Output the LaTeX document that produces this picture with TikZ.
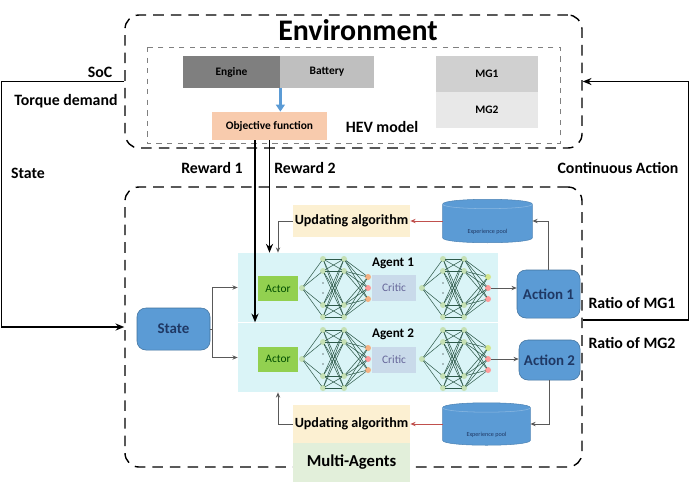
\documentclass[tikz,border=0pt]{standalone}
\usepackage{fontspec}
\setmainfont{Carlito}
\usetikzlibrary{arrows.meta,backgrounds}

\definecolor{enginegray}{HTML}{7F7F7F}
\definecolor{battgray}{HTML}{BFBFBF}
\definecolor{mgonegray}{HTML}{D0D0D0}
\definecolor{mgtwogray}{HTML}{E8E8E8}
\definecolor{objpeach}{HTML}{F8CBAD}
\definecolor{hevblue}{HTML}{5B9BD5}
\definecolor{navytext}{HTML}{1F3864}
\definecolor{panelcyan}{HTML}{DAF4F7}
\definecolor{updyellow}{HTML}{FCF0D2}
\definecolor{multigreen}{HTML}{E2EFDA}
\definecolor{actorgreen}{HTML}{92D050}
\definecolor{criticblue}{HTML}{C9DAEA}
\definecolor{neurongreen}{HTML}{C5E0B4}
\definecolor{edgeteal}{HTML}{2E5A4A}
\definecolor{outorange}{HTML}{F4B183}
\definecolor{outpink}{HTML}{FF9B9B}
\definecolor{outlime}{HTML}{D4E68C}
\definecolor{pooldark}{HTML}{41719C}
\definecolor{arrowred}{HTML}{C0504D}

\tikzset{
  lbl/.style={font=\bfseries\fontsize{9}{10}\selectfont},
  hevpart/.style={minimum height=6.4mm,inner sep=0pt,font=\bfseries\fontsize{6.5}{7}\selectfont},
  bluebox/.style={fill=hevblue,draw=pooldark,line width=0.3pt,rounded corners=5pt,text=navytext,inner sep=0pt,font=\bfseries\fontsize{8.5}{9}\selectfont},
  updbox/.style={fill=updyellow,minimum width=23.4mm,inner sep=0pt,font=\bfseries\fontsize{8}{9}\selectfont},
  poolbox/.style={inner sep=0pt,text=navytext,font=\fontsize{3.5}{4}\selectfont,text depth=0pt},
  poolfill/.style={fill=hevblue,draw=hevblue!85!black,line width=0.3pt},
  neuron/.style={circle,fill=neurongreen,inner sep=0pt,minimum size=1.2mm},
  nnedge/.style={draw=edgeteal,line width=0.3pt,shorten <=-0.5pt,shorten >=-0.5pt},
  gconn/.style={draw=gray!70!black,line width=0.5pt,-{Stealth[length=3pt,width=2.5pt]}},
  redconn/.style={draw=arrowred,line width=0.5pt,-{Stealth[length=3pt,width=2.5pt]}},
  loopline/.style={line width=0.8pt,-{Stealth[length=5pt,width=4pt]}},
}

\begin{document}
\begin{tikzpicture}[x=0.2mm,y=-0.2mm]
\useasboundingbox (0,0) rectangle (690,488);

% environment part
\node[draw,dashed,dash pattern=on 6pt off 4pt,line width=0.8pt,rounded corners=8pt,minimum width=91.4mm,minimum height=26.6mm] (envbox) at (353.5,81.5) {};
\draw[gray,dashed,line width=0.5pt] (147,47) rectangle (560,143);
\node[font=\bfseries\fontsize{17}{18}\selectfont] (envtitle) at (358,30) {Environment};

\node[hevpart,fill=enginegray,minimum width=19.4mm] (engine) at (231.5,72) {Engine};
\node[hevpart,fill=battgray,minimum width=18.8mm] (battery) at (327,72) {Battery};
\node[hevpart,fill=mgonegray,minimum width=20.4mm,minimum height=7.2mm] (mgone) at (487,74) {MG1};
\node[hevpart,fill=mgtwogray,minimum width=20.4mm,minimum height=7.2mm] (mgtwo) at (487,110) {MG2};
\node[hevpart,fill=objpeach,minimum width=23mm,minimum height=5.6mm] (objfun) at (269.5,126) {Objective function};
\node[lbl] (hevlabel) at (382,127) {HEV model};

\draw[hevblue,line width=1.5pt,-{Triangle[length=4pt,width=5pt]}] (engine.south east) -- (engine.south east |- objfun.north);

% agent part
\node[draw,dashed,dash pattern=on 6pt off 4pt,line width=0.8pt,rounded corners=8pt,minimum width=91.4mm,minimum height=56mm] (agentbox) at (353.5,327) {};

\node[fill=panelcyan,minimum width=52mm,minimum height=13.8mm,inner sep=0pt] (pana) at (368,287.5) {};
\node[fill=panelcyan,minimum width=52mm,minimum height=13.8mm,inner sep=0pt] (panb) at (368,357.5) {};
\draw[white,line width=0.6pt] (pana.south west) -- (pana.south east);

\node[fill=actorgreen,minimum width=8mm,minimum height=5mm,inner sep=0pt,text=green!30!black,font=\fontsize{6.5}{7}\selectfont] (actora) at (278,288.5) {Actor};
\node[fill=actorgreen,minimum width=8mm,minimum height=5mm,inner sep=0pt,text=green!30!black,font=\fontsize{6.5}{7}\selectfont] (actorb) at (278,359) {Actor};
\node[fill=criticblue,minimum width=8.8mm,minimum height=5.2mm,inner sep=0pt,text=gray!80!blue,font=\fontsize{6.5}{7}\selectfont] (critica) at (394,288) {Critic};
\node[fill=criticblue,minimum width=8.8mm,minimum height=5.2mm,inner sep=0pt,text=gray!80!blue,font=\fontsize{6.5}{7}\selectfont] (criticb) at (394,360) {Critic};

% networks
\foreach \nn/\nx/\ny/\oa/\ob/\oc in {a/302/288/outorange/outpink/outorange, b/422/288/outlime/outpink/outpink, c/302/359/outorange/outpink/outorange, d/422/359/outlime/outpink/outpink}{
  \node[neuron] (\nn-in) at (\nx,\ny) {};
  \foreach \dy [count=\i] in {-29,-17,17,29}{
    \node[neuron] (\nn-p\i) at (\nx+21,\ny+\dy) {};
    \node[neuron] (\nn-q\i) at (\nx+42,\ny+\dy) {};
  }
  \node[neuron,fill=\oa] (\nn-o1) at (\nx+66,\ny-11) {};
  \node[neuron,fill=\ob] (\nn-o2) at (\nx+66,\ny) {};
  \node[neuron,fill=\oc] (\nn-o3) at (\nx+66,\ny+11) {};
  \foreach \i in {1,...,4}{
    \draw[nnedge] (\nn-in) -- (\nn-p\i);
    \foreach \j in {1,...,4} \draw[nnedge] (\nn-p\i) -- (\nn-q\j);
    \foreach \k in {1,2,3} \draw[nnedge] (\nn-q\i) -- (\nn-o\k);
  }
  \fill (\nx+21,\ny-5) circle (0.35pt);
  \fill (\nx+21,\ny+5) circle (0.35pt);
}

\node[font=\bfseries\fontsize{7.5}{8}\selectfont] (agentone) at (393,263) {Agent 1};
\node[font=\bfseries\fontsize{7.5}{8}\selectfont] (agenttwo) at (393,334) {Agent 2};

\node[bluebox,minimum width=12.6mm,minimum height=9.6mm] (actiona) at (548.5,294) {Action 1};
\node[bluebox,minimum width=12.2mm,minimum height=8mm] (actionb) at (549.5,360) {Action 2};
\node[bluebox,minimum width=14.6mm,minimum height=8.4mm] (state) at (173.5,329) {State};

\node[updbox,minimum height=6.4mm] (updone) at (351.5,221) {Updating algorithm};
\node[updbox,minimum height=7.6mm] (updtwo) at (351.5,424) {Updating algorithm};
\node[fill=multigreen,minimum width=23.4mm,minimum height=7.8mm,inner sep=0pt,font=\bfseries\fontsize{9.5}{10}\selectfont] (multi) at (351.5,462.5) {Multi-Agents};

% experience pools (barrel drawn behind the node)
\node[poolbox,minimum height=8.6mm,minimum width=17.8mm] (poolone) at (487.5,221) {\raisebox{-2.4mm}{Experience pool}};
\node[poolbox,minimum height=8.4mm,minimum width=17.4mm] (pooltwo) at (486.5,424) {\raisebox{-2.4mm}{Experience pool}};
\begin{scope}[on background layer]
\foreach \pl in {poolone,pooltwo}{
  \filldraw[poolfill] ([yshift=-1mm]\pl.north west) .. controls ([yshift=0.3mm]\pl.north west) and ([yshift=0.3mm]\pl.north east) .. ([yshift=-1mm]\pl.north east)
    -- ([yshift=1mm]\pl.south east) .. controls ([yshift=-0.3mm]\pl.south east) and ([yshift=-0.3mm]\pl.south west) .. ([yshift=1mm]\pl.south west) -- cycle;
  \draw[hevblue!70!white,line width=0.3pt] ([yshift=-1mm]\pl.north west) .. controls ([yshift=-2.2mm]\pl.north west) and ([yshift=-2.2mm]\pl.north east) .. ([yshift=-1mm]\pl.north east);
}
\end{scope}

% connectors in the agent part
\coordinate (split) at (212,329);
\draw[gray!70!black,line width=0.5pt] (state.east) -- (split);
\draw[gconn] (split) |- (pana.west);
\draw[gconn] (split) |- (panb.west);
\draw[gconn] (b-o2) -- (b-o2 -| actiona.west);
\draw[gconn] (d-o2) -- (d-o2 -| actionb.west);
\draw[gconn] (actiona.north) |- (poolone.east);
\draw[redconn] (poolone.west) -- (updone.east);
\draw[gconn] (updone.west) -| (actora |- pana.north);
\draw[gconn] (actionb.south) |- (pooltwo.east);
\draw[redconn] (pooltwo.west) -- (updtwo.east);
\draw[gconn] (updtwo.west) -| (actorb |- panb.south);

% rewards
\draw[line width=0.9pt,-{Stealth[length=5pt,width=4pt]}] ([xshift=-2.9mm]objfun.south) -- ([xshift=-2.9mm]objfun.south |- pana.south);
\draw[line width=0.9pt,-{Stealth[length=5pt,width=4pt]}] (objfun.south) -- (objfun.south |- pana.north);
\node[lbl] (rewone) at (212,168) {Reward 1};
\node[lbl] (rewtwo) at (305,168) {Reward 2};

% loops between environment and agents
\draw[loopline] (envbox.west) -- ++(-123,0) |- (agentbox.west);
\draw[loopline] ([yshift=1.4mm]agentbox.east) -- ++(106,0) |- (envbox.east);
\node[lbl] (soc) at (100,72) {SoC};
\node[lbl] (torque) at (66,101) {Torque demand};
\node[lbl] (statelbl) at (28,173) {State};
\node[lbl] (contact) at (618,168) {Continuous Action};
\node[lbl] (ratioone) at (632,303) {Ratio of MG1};
\node[lbl] (ratiotwo) at (632,343) {Ratio of MG2};

\end{tikzpicture}
\end{document}
